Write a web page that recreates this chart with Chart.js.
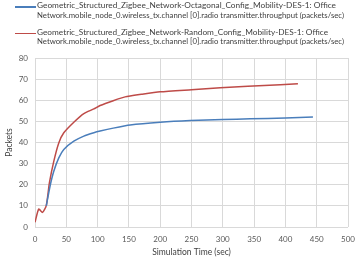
<!DOCTYPE html>
<html>
<head>
<meta charset="utf-8">
<script src="https://cdn.jsdelivr.net/npm/chart.js@4"></script>
<style>
  html, body { margin: 0; background: #fff; overflow: hidden; }
  #wrap { position: relative; width: 357px; height: 261px; overflow: hidden; }
  #legend { position: absolute; left: 0; top: 0; width: 357px; height: 60px; font-family: Lato, sans-serif; font-size: 8.2px; color: #404040; }
  .item { position: absolute; left: 37px; width: 320px; line-height: 9.8px; white-space: nowrap; }
  .line { display: block; transform-origin: 0 50%; }
  .swatch { position: absolute; left: -22px; top: 5px; width: 21px; height: 1.5px; }
</style>
</head>
<body>
<div id="wrap">
  <canvas id="myChart" width="357" height="261"></canvas>
  <div id="legend"></div>
</div>
<script>
// series labels
const seriesNames = [
    "Geometric_Structured_Zigbee_Network-Octagonal_Config_Mobility-DES-1: Office\nNetwork.mobile_node_0.wireless_tx.channel [0].radio transmitter.throughput (packets/sec)",
    "Geometric_Structured_Zigbee_Network-Random_Config_Mobility-DES-1: Office\nNetwork.mobile_node_0.wireless_tx.channel [0].radio transmitter.throughput (packets/sec)"
];

// Octagonal (blue)
const octTimes = [18, 24, 30, 38, 46, 62, 78, 94, 104, 125, 152, 200, 248, 300, 344, 400, 444];
const octValues = [10, 19.3, 26.4, 32.7, 36.7, 40.6, 43, 44.6, 45.4, 46.8, 48.3, 49.6, 50.4, 50.9, 51.2, 51.6, 52.1];

// Random (red)
const rndTimes = [0, 6, 12, 18, 23, 30, 38, 46, 62, 78, 94, 104, 125, 144, 170, 200, 250, 296, 340, 392, 420];
const rndValues = [2.2, 8.5, 6.9, 10.1, 20.9, 31.1, 39.8, 44.6, 49.6, 53.7, 55.9, 57.5, 59.8, 61.6, 62.8, 64, 65, 65.9, 66.6, 67.3, 67.8];

const colors = ["#4a7ebb", "#be4b48"];

function toPoints(xs, ys) {
    return xs.map(function(x, i) { return { x: x, y: ys[i] }; });
}

// legend (two-line entries, so built in html)
const legend = document.getElementById("legend");
const tops = [1, 27.5];
const lineWidths = [299, 307, 291, 307]; // widths of the reference text lines
let n = 0;
seriesNames.forEach(function(name, i) {
    const item = document.createElement("div");
    item.className = "item";
    item.style.top = tops[i] + "px";
    const sw = document.createElement("div");
    sw.className = "swatch";
    sw.style.background = colors[i];
    item.appendChild(sw);
    name.split("\n").forEach(function(line) {
        const d = document.createElement("span");
        d.className = "line";
        d.textContent = line;
        item.appendChild(d);
        d.dataset.w = lineWidths[n++];
    });
    legend.appendChild(item);
});
document.querySelectorAll(".line").forEach(function(d) {
    d.style.display = "inline-block";
    const w = d.getBoundingClientRect().width;
    d.style.display = "block";
    d.style.width = w + "px";
    d.style.transform = "scaleX(" + (d.dataset.w / w) + ")";
});

const tickFont = { family: "Lato, sans-serif", size: 8 };
const gridColor = "#d9d9d9";

const ctx = document.getElementById("myChart").getContext("2d");
const myChart = new Chart(ctx, {
    type: "line",
    data: {
        datasets: [{
            label: seriesNames[0],
            data: toPoints(octTimes, octValues),
            borderColor: colors[0],
            borderWidth: 1.5,
            pointRadius: 0,
            tension: 0.2,
            fill: false
        }, {
            label: seriesNames[1],
            data: toPoints(rndTimes, rndValues),
            borderColor: colors[1],
            borderWidth: 1.5,
            pointRadius: 0,
            tension: 0.2,
            fill: false
        }]
    },
    options: {
        responsive: false,
        animation: false,
        layout: { padding: { top: 58, left: 0, right: 9, bottom: 0 } },
        plugins: {
            legend: { display: false },
            tooltip: { enabled: false }
        },
        scales: {
            x: {
                type: "linear",
                min: 0,
                max: 500,
                ticks: { stepSize: 50, color: "#595959", font: tickFont, padding: 8, maxRotation: 0 },
                grid: { color: gridColor, drawTicks: false },
                border: { display: false },
                title: { display: true, text: "Simulation Time (sec)", color: "#404040", font: { family: "Lato, sans-serif", size: 8.5 }, padding: { top: 3 } },
                afterFit: function(s) {
                    s.height = 34;
                    s.paddingLeft = 0;
                    s.paddingRight = 0;
                }
            },
            y: {
                min: 0,
                max: 80,
                ticks: { stepSize: 10, color: "#595959", font: tickFont, padding: 7 },
                grid: { color: gridColor, drawTicks: false },
                border: { display: false },
                title: { display: true, text: "Packets", color: "#404040", font: { family: "Lato, sans-serif", size: 8.5 }, padding: { bottom: 4 } },
                afterFit: function(s) {
                    s.width = 35;
                    s.paddingTop = 0;
                    s.paddingBottom = 0;
                }
            }
        }
    }
});
</script>
</body>
</html>
